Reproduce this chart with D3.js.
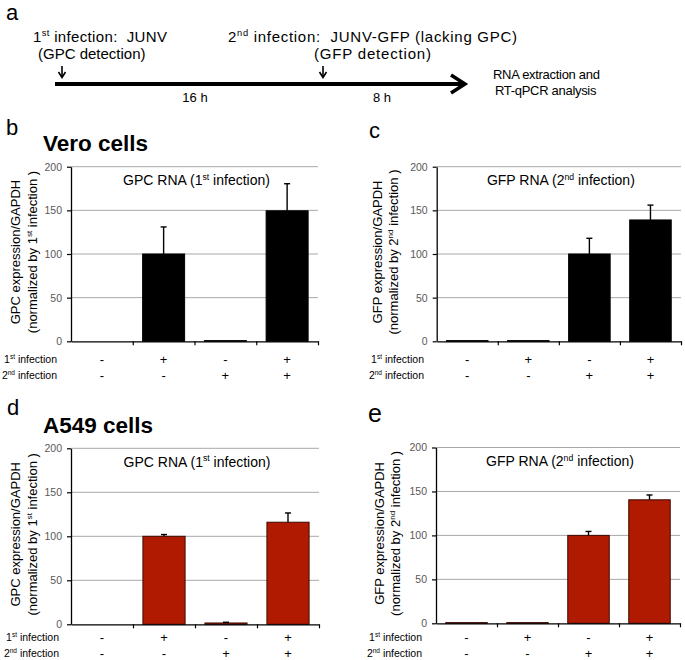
<!DOCTYPE html>
<html>
<head>
<meta charset="utf-8">
<script src="https://cdn.jsdelivr.net/npm/d3@7"></script>
<style>
  html, body { margin: 0; padding: 0; background: #fff; }
  svg { display: block; font-family: "Liberation Sans", Arial, sans-serif; }
</style>
</head>
<body>
<svg id="chart" width="685" height="660"></svg>
<script>
// ---------------- DATA ----------------
const conditions = ["c1", "c2", "c3", "c4"];
const firstInfection = ["-", "+", "-", "+"];
const secondInfection = ["-", "-", "+", "+"];
const yTicks = [0, 50, 100, 150, 200];

const veroGPC = [0, 100, 0.8, 149.5];
const veroGPCErr = [0, 31, 0, 31];
const veroGFP = [0.8, 0.8, 100, 139];
const veroGFPErr = [0, 0, 18, 17];
const a549GPC = [0, 100, 1.5, 116];
const a549GPCErr = [0, 2, 0.8, 10.5];
const a549GFP = [0.8, 0.8, 100, 140.5];
const a549GFPErr = [0, 0, 4.5, 5.5];

// ---------------- DRAW ----------------
const svg = d3.select("#chart");
const FONT = "'Liberation Sans', Arial, sans-serif";

function rich(sel, parts, fs) {
  // parts: array of [text, isSuper]
  let prevSup = false;
  parts.forEach(([t, sup]) => {
    const ts = sel.append("tspan").text(t);
    if (sup && !prevSup) ts.attr("dy", -fs * 0.38).attr("font-size", fs * 0.62);
    else if (!sup && prevSup) ts.attr("dy", fs * 0.38);
    prevSup = sup;
  });
  return sel;
}

// ---- Panel a: timeline ----
svg.append("text").attr("x", 6).attr("y", 20).attr("font-size", 22).text("a");
rich(svg.append("text").attr("x", 33).attr("y", 42).attr("font-size", 15).style("white-space", "pre")
  .attr("textLength", 134),
  [["1", false], ["st", true], [" infection:  JUNV", false]], 15);
svg.append("text").attr("x", 38).attr("y", 59).attr("font-size", 15).text("(GPC detection)");
rich(svg.append("text").attr("x", 228).attr("y", 42).attr("font-size", 15).style("white-space", "pre")
  .attr("textLength", 289),
  [["2", false], ["nd", true], [" infection:  JUNV-GFP (lacking GPC)", false]], 15);
svg.append("text").attr("x", 314).attr("y", 59).attr("font-size", 15).attr("textLength", 117).text("(GFP detection)");

svg.append("line").attr("x1", 55).attr("x2", 462).attr("y1", 84).attr("y2", 84)
  .attr("stroke", "#000").attr("stroke-width", 4);
svg.append("polyline").attr("points", "451,75 465,84 451,93")
  .attr("fill", "none").attr("stroke", "#000").attr("stroke-width", 3.5);
[62, 323].forEach(ax => {
  svg.append("line").attr("x1", ax).attr("x2", ax).attr("y1", 66).attr("y2", 77)
    .attr("stroke", "#000").attr("stroke-width", 1.6);
  svg.append("polyline").attr("points", `${ax - 3.5},72 ${ax},77.5 ${ax + 3.5},72`)
    .attr("fill", "none").attr("stroke", "#000").attr("stroke-width", 1.6);
});
svg.append("text").attr("x", 195).attr("y", 102).attr("font-size", 13).attr("text-anchor", "middle").text("16 h");
svg.append("text").attr("x", 382).attr("y", 102).attr("font-size", 13).attr("text-anchor", "middle").text("8 h");
svg.append("text").attr("x", 493).attr("y", 79).attr("font-size", 13).attr("letter-spacing", -0.3).text("RNA extraction and");
svg.append("text").attr("x", 495).attr("y", 95).attr("font-size", 13).attr("letter-spacing", -0.3).text("RT-qPCR analysis");

// ---- Bar panels ----
const panels = [
  { letter: "b", lx: 6, ly: 135, lfs: 22, cell: "Vero cells", cy: 151,
    values: veroGPC, errors: veroGPCErr, fill: "#000", stroke: "#000",
    title: [["GPC RNA (1", false], ["st", true], [" infection)", false]],
    ylab1: "GPC expression/GAPDH", ylab2: [["(normalized by 1", false], ["st", true], [" infection )", false]],
    x0: 71, x1: 318, y0: 166.7, y1: 341.3, rows: [359, 375], rowEnd: 57, ylx: [15, 32] },
  { letter: "c", lx: 369, ly: 138, lfs: 22, cell: null,
    values: veroGFP, errors: veroGFPErr, fill: "#000", stroke: "#000",
    title: [["GFP RNA (2", false], ["nd", true], [" infection)", false]],
    ylab1: "GFP expression/GAPDH", ylab2: [["(normalized by 2", false], ["nd", true], [" infection )", false]],
    x0: 436.7, x1: 681, y0: 166.7, y1: 341.3, rows: [359, 375], rowEnd: 424, ylx: [377, 393] },
  { letter: "d", lx: 7, ly: 415, lfs: 22, cell: "A549 cells", cy: 433,
    values: a549GPC, errors: a549GPCErr, fill: "#b01a00", stroke: "#3d0900",
    title: [["GPC RNA (1", false], ["st", true], [" infection)", false]],
    ylab1: "GPC expression/GAPDH", ylab2: [["(normalized by 1", false], ["st", true], [" infection )", false]],
    x0: 71, x1: 319, y0: 448.3, y1: 624.3, rows: [637, 653], rowEnd: 59, ylx: [15, 32] },
  { letter: "e", lx: 368, ly: 422, lfs: 25, cell: null,
    values: a549GFP, errors: a549GFPErr, fill: "#b01a00", stroke: "#3d0900",
    title: [["GFP RNA (2", false], ["nd", true], [" infection)", false]],
    ylab1: "GFP expression/GAPDH", ylab2: [["(normalized by 2", false], ["nd", true], [" infection )", false]],
    x0: 436, x1: 680, y0: 447.5, y1: 623.3, rows: [637, 653], rowEnd: 422, ylx: [379, 395] }
];

panels.forEach(p => {
  const g = svg.append("g");
  g.append("text").attr("x", p.lx).attr("y", p.ly).attr("font-size", p.lfs).text(p.letter);
  if (p.cell) {
    g.append("text").attr("x", 43).attr("y", p.cy).attr("font-size", 22.5)
      .attr("font-weight", "bold").text(p.cell);
  }

  const x = d3.scaleBand().domain(conditions).range([p.x0, p.x1])
    .paddingInner(0.32).paddingOuter(0.16);
  const xb = d3.scaleLinear().domain([0, conditions.length]).range([p.x0, p.x1]);
  const y = d3.scaleLinear().domain([0, 200]).range([p.y1, p.y0]);

  // gridlines
  g.append("g").selectAll("line").data(yTicks.filter(t => t > 0)).join("line")
    .attr("x1", p.x0).attr("x2", p.x1)
    .attr("y1", d => y(d)).attr("y2", d => y(d))
    .attr("stroke", "#a8a8a8").attr("stroke-width", 1);

  // y axis
  const ya = g.append("g").attr("transform", `translate(${p.x0},0)`)
    .call(d3.axisLeft(y).tickValues(yTicks).tickSize(4).tickSizeOuter(0).tickPadding(5));
  ya.select(".domain").attr("stroke", "#000").attr("stroke-width", 1.3);
  ya.selectAll(".tick line").attr("stroke", "#000").attr("stroke-width", 1.2);
  ya.selectAll(".tick text").attr("font-size", 10.5).attr("fill", "#595959").attr("font-family", FONT);

  // bars
  g.append("g").selectAll("rect").data(conditions).join("rect")
    .attr("x", d => x(d))
    .attr("width", x.bandwidth())
    .attr("y", (d, i) => y(p.values[i]))
    .attr("height", (d, i) => y(0) - y(p.values[i]))
    .attr("fill", p.fill).attr("stroke", p.stroke).attr("stroke-width", 1);

  // error bars (upper only)
  const eg = g.append("g").attr("stroke", "#000").attr("stroke-width", 1.4);
  conditions.forEach((c, i) => {
    if (p.errors[i] <= 0) return;
    const cx = x(c) + x.bandwidth() / 2;
    eg.append("line").attr("x1", cx).attr("x2", cx)
      .attr("y1", y(p.values[i])).attr("y2", y(p.values[i] + p.errors[i]));
    eg.append("line").attr("x1", cx - 3).attr("x2", cx + 3)
      .attr("y1", y(p.values[i] + p.errors[i])).attr("y2", y(p.values[i] + p.errors[i]));
  });

  // x axis
  const xa = g.append("g").attr("transform", `translate(0,${p.y1})`)
    .call(d3.axisBottom(xb).tickValues(d3.range(1, conditions.length + 1)).tickSize(4).tickSizeOuter(0).tickFormat(""));
  xa.select(".domain").attr("stroke", "#000").attr("stroke-width", 1.3);
  xa.selectAll(".tick line").attr("stroke", "#000").attr("stroke-width", 1.2);

  // title
  rich(g.append("text").attr("x", (p.x0 + p.x1) / 2 + 2).attr("y", p.y0 + 18.5)
    .attr("font-size", 14).attr("text-anchor", "middle"), p.title, 14);

  // y label
  const ym = (p.y0 + p.y1) / 2 - 2;
  g.append("text").attr("transform", `translate(${p.ylx[0]},${ym}) rotate(-90)`)
    .attr("font-size", 13).attr("text-anchor", "middle").attr("dy", "0.35em").text(p.ylab1);
  rich(g.append("text").attr("transform", `translate(${p.ylx[1]},${ym}) rotate(-90)`)
    .attr("font-size", 13).attr("text-anchor", "middle").attr("dy", "0.35em"), p.ylab2, 13);

  // condition rows
  const rowLabels = [[["1", false], ["st", true], [" infection", false]],
                     [["2", false], ["nd", true], [" infection", false]]];
  [firstInfection, secondInfection].forEach((signs, r) => {
    rich(g.append("text").attr("x", p.rowEnd).attr("y", p.rows[r] + 3.8)
      .attr("font-size", 10.5).attr("text-anchor", "end"), rowLabels[r], 10.5);
    g.append("g").selectAll("text").data(conditions).join("text")
      .attr("x", d => x(d) + x.bandwidth() / 2)
      .attr("y", p.rows[r] + 4.5)
      .attr("text-anchor", "middle").attr("font-size", 13)
      .text((d, i) => signs[i]);
  });
});
</script>
</body>
</html>
